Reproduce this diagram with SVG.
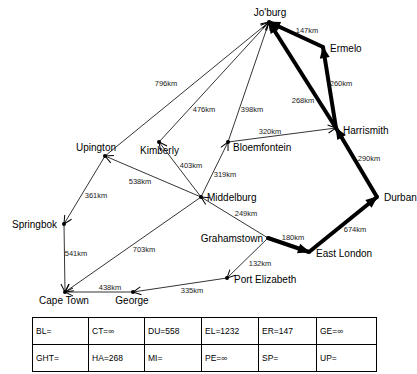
<svg xmlns="http://www.w3.org/2000/svg" width="417" height="374" viewBox="0 0 417 374">
  <defs>
    <marker id="open" markerUnits="userSpaceOnUse" markerWidth="10" markerHeight="10" refX="8" refY="4" orient="auto" overflow="visible">
      <path d="M0,0 L8,4 L0,8" fill="none" stroke="#000" stroke-width="1"/>
    </marker>
    <marker id="solid" markerUnits="userSpaceOnUse" markerWidth="14" markerHeight="12" refX="11" refY="5" orient="auto" overflow="visible">
      <path d="M0,0 L12,5 L0,10 Z" fill="#000"/>
    </marker>
  </defs>
  <style>
    text { font-family: "Liberation Sans", Arial, sans-serif; fill: #000; }
    .name { font-size: 10px; }
    .km { font-size: 7.5px; text-anchor: middle; fill: #222; }
    .cell { font-size: 8.5px; }
    .thin { stroke: #000; stroke-width: 0.8; fill: none; marker-end: url(#open); }
    .thick { stroke: #000; stroke-width: 4; fill: none; marker-end: url(#solid); }
    .dot { fill: #000; }
    .grid { fill: none; stroke: #000; stroke-width: 1; }
  </style>
  <rect width="417" height="374" fill="#fff"/>

  <!-- roads -->
  <g id="connectors" opacity="0.999">
    <line class="thin" x1="105" y1="156" x2="269" y2="22"/>
    <line class="thin" x1="159" y1="142" x2="269" y2="22"/>
    <line class="thin" x1="228" y1="142" x2="269" y2="22"/>
    <line class="thin" x1="228" y1="142" x2="336" y2="128"/>
    <line class="thin" x1="201" y1="197" x2="159" y2="142"/>
    <line class="thin" x1="201" y1="197" x2="228" y2="142"/>
    <line class="thin" x1="201" y1="197" x2="105" y2="156"/>
    <line class="thin" x1="268" y1="238" x2="201" y2="197"/>
    <line class="thin" x1="105" y1="156" x2="64" y2="224"/>
    <line class="thin" x1="64" y1="224" x2="65" y2="292"/>
    <line class="thin" x1="201" y1="197" x2="65" y2="292"/>
    <line class="thin" x1="133" y1="292" x2="65" y2="292"/>
    <line class="thin" x1="227" y1="278" x2="133" y2="292"/>
    <line class="thin" x1="268" y1="238" x2="227" y2="278"/>

    <line class="thick" x1="268" y1="238" x2="309" y2="252"/>
    <line class="thick" x1="309" y1="252" x2="377" y2="197"/>
    <line class="thick" x1="377" y1="197" x2="336" y2="128"/>
    <line class="thick" x1="336" y1="128" x2="269" y2="22"/>
    <line class="thick" x1="336" y1="128" x2="323" y2="47"/>
    <line class="thick" x1="323" y1="47" x2="269" y2="22"/>

    <text class="km" x="166" y="86">796km</text>
    <text class="km" x="204" y="112">476km</text>
    <text class="km" x="252" y="112">398km</text>
    <text class="km" x="307" y="33">147km</text>
    <text class="km" x="341" y="86">260km</text>
    <text class="km" x="303" y="103">268km</text>
    <text class="km" x="270" y="134">320km</text>
    <text class="km" x="191" y="168">403km</text>
    <text class="km" x="225" y="177">319km</text>
    <text class="km" x="140" y="184">538km</text>
    <text class="km" x="96" y="198">361km</text>
    <text class="km" x="246" y="216">249km</text>
    <text class="km" x="369" y="161">290km</text>
    <text class="km" x="355" y="232">674km</text>
    <text class="km" x="293" y="240">180km</text>
    <text class="km" x="76" y="256">541km</text>
    <text class="km" x="144" y="252">703km</text>
    <text class="km" x="110" y="290">438km</text>
    <text class="km" x="192" y="293">335km</text>
    <text class="km" x="260" y="266">132km</text>
  </g>

  <!-- towns -->
  <g id="joburg"><circle class="dot" cx="269" cy="22" r="2"/><text class="name" x="270" y="16" text-anchor="middle">Jo'burg</text></g>
  <g id="ermelo"><circle class="dot" cx="323" cy="47" r="2"/><text class="name" x="330" y="52">Ermelo</text></g>
  <g id="harrismith"><circle class="dot" cx="336" cy="128" r="2"/><text class="name" x="343" y="134">Harrismith</text></g>
  <g id="durban"><circle class="dot" cx="377" cy="197" r="2"/><text class="name" x="384" y="201">Durban</text></g>
  <g id="middelburg"><circle class="dot" cx="201" cy="197" r="2"/><text class="name" x="207" y="201">Middelburg</text></g>
  <g id="bloemfontein"><circle class="dot" cx="228" cy="142" r="2"/><text class="name" x="233" y="151">Bloemfontein</text></g>
  <g id="kimberly"><circle class="dot" cx="159" cy="142" r="2"/><text class="name" x="140" y="154">Kimberly</text></g>
  <g id="upington"><circle class="dot" cx="105" cy="156" r="2"/><text class="name" x="96" y="151" text-anchor="middle">Upington</text></g>
  <g id="springbok"><circle class="dot" cx="64" cy="224" r="2"/><text class="name" x="12" y="228">Springbok</text></g>
  <g id="capetown"><circle class="dot" cx="65" cy="292" r="2"/><text class="name" x="64" y="304" text-anchor="middle">Cape Town</text></g>
  <g id="george"><circle class="dot" cx="133" cy="292" r="2"/><text class="name" x="132" y="304" text-anchor="middle">George</text></g>
  <g id="portelizabeth"><circle class="dot" cx="227" cy="278" r="2"/><text class="name" x="234" y="283">Port Elizabeth</text></g>
  <g id="grahamstown"><circle class="dot" cx="268" cy="238" r="2"/><text class="name" x="263" y="242" text-anchor="end">Grahamstown</text></g>
  <g id="eastlondon"><circle class="dot" cx="309" cy="252" r="2"/><text class="name" x="316" y="257">East London</text></g>

  <!-- distance table -->
  <g id="table">
    <rect class="grid" x="32.5" y="317.5" width="344" height="54"/>
    <line class="grid" x1="32.5" y1="344.5" x2="376.5" y2="344.5"/>
    <line class="grid" x1="88.5" y1="317.5" x2="88.5" y2="371.5"/>
    <line class="grid" x1="144.5" y1="317.5" x2="144.5" y2="371.5"/>
    <line class="grid" x1="201.5" y1="317.5" x2="201.5" y2="371.5"/>
    <line class="grid" x1="258.5" y1="317.5" x2="258.5" y2="371.5"/>
    <line class="grid" x1="316.5" y1="317.5" x2="316.5" y2="371.5"/>
    <text class="cell" x="36" y="334">BL=</text>
    <text class="cell" x="92" y="334">CT=∞</text>
    <text class="cell" x="148" y="334">DU=558</text>
    <text class="cell" x="205" y="334">EL=1232</text>
    <text class="cell" x="262" y="334">ER=147</text>
    <text class="cell" x="320" y="334">GE=∞</text>
    <text class="cell" x="36" y="361">GHT=</text>
    <text class="cell" x="92" y="361">HA=268</text>
    <text class="cell" x="148" y="361">MI=</text>
    <text class="cell" x="205" y="361">PE=∞</text>
    <text class="cell" x="262" y="361">SP=</text>
    <text class="cell" x="320" y="361">UP=</text>
  </g>
</svg>
